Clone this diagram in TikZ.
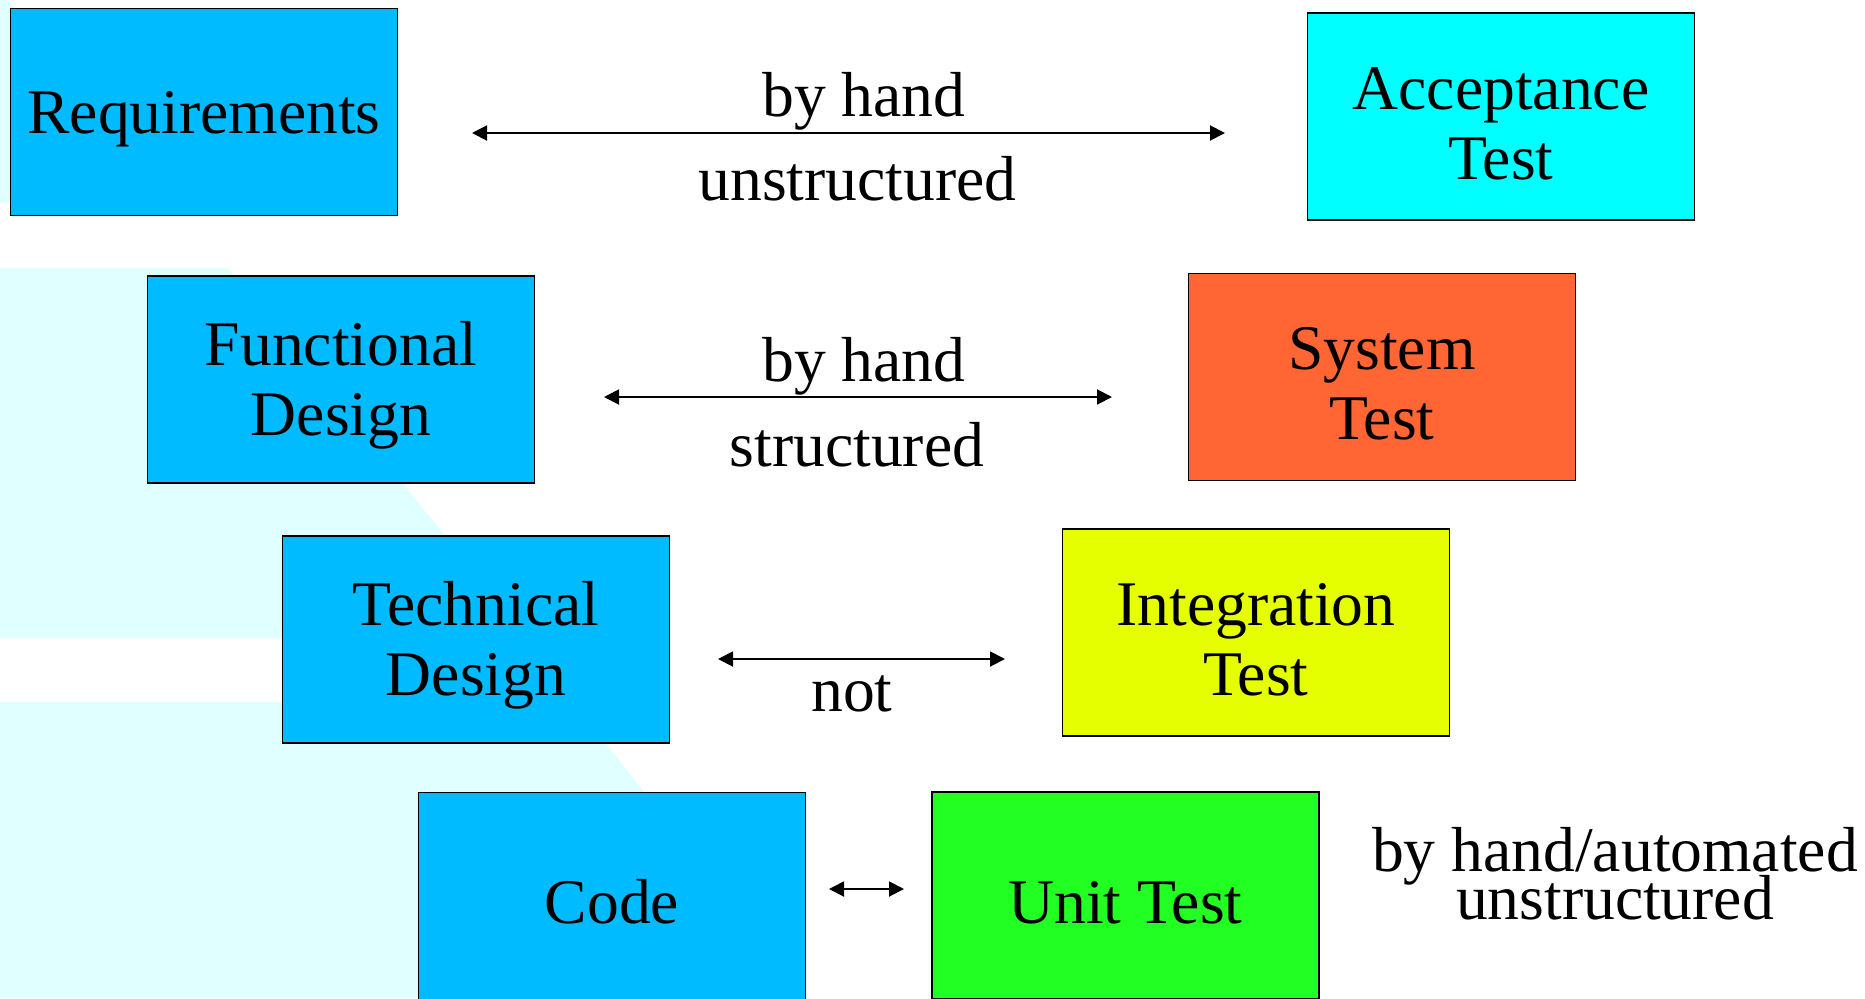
\documentclass[tikz,border=0pt]{standalone}
\usepackage{fontspec}
\setmainfont{Liberation Serif}
\usetikzlibrary{arrows.meta}

\definecolor{phaseblue}{HTML}{00BBFF}
\definecolor{accept}{HTML}{00FFFF}
\definecolor{systest}{HTML}{FF6633}
\definecolor{integr}{HTML}{E5FF00}
\definecolor{unittest}{HTML}{22FF22}
\definecolor{bgcyan}{HTML}{E0FFFF}

% extra room above the first line, so box texts sit a little low
\newcommand{\toppad}{\rule{0pt}{32pt}}

\tikzset{
  phase/.style={draw=black, line width=0.8pt, minimum width=7.74cm, minimum height=4.14cm,
    inner sep=0pt, align=center, font=\fontsize{36.2}{40}\selectfont},
  link/.style={{Triangle[length=0.3cm,width=0.3cm]}-{Triangle[length=0.3cm,width=0.3cm]},
    line width=1.1pt},
  remark/.style={inner sep=0pt, align=center, font=\fontsize{36.2}{40}\selectfont},
}

\begin{document}
\begin{tikzpicture}[x=0.02cm,y=-0.02cm]
    \useasboundingbox (0,0) rectangle (1865,998);
    % light bands behind the left column
    \fill[bgcyan] (0,0) -- (8,0) -- (172,203) -- (0,203) -- cycle;
    \fill[bgcyan] (0,268) -- (228,268) -- (528,638) -- (0,638) -- cycle;
    \fill[bgcyan] (0,702) -- (573,702) -- (807,998) -- (0,998) -- cycle;

    % development side
    \node[phase, fill=phaseblue] (req)  at (204,112)   {\toppad Requirements};
    \node[phase, fill=phaseblue] (fd)   at (341,379.5) {\toppad Functional\\Design};
    \node[phase, fill=phaseblue] (td)   at (476,639.5) {\toppad Technical\\Design};
    \node[phase, fill=phaseblue] (code) at (612,896)   {\toppad Code};

    % test side
    \node[phase, fill=accept]   (at)  at (1501,116.5) {\toppad Acceptance\\Test};
    \node[phase, fill=systest]  (st)  at (1382,377)   {\toppad System\\Test};
    \node[phase, fill=integr]   (it)  at (1256,632.5) {\toppad Integration\\Test};
    \node[phase, fill=unittest] (ut)  at (1125.5,895.5) {\toppad Unit Test};

    % arrow ends
    \coordinate (l1) at (472,133);  \coordinate (r1) at (1225,133);
    \coordinate (l2) at (604,397);  \coordinate (r2) at (1112,397);
    \coordinate (l3) at (718,659);  \coordinate (r3) at (1005,659);
    \coordinate (l4) at (829,889);  \coordinate (r4) at (904,889);

    \draw[link] (l1) -- (r1);
    \draw[link] (l2) -- (r2);
    \draw[link] (l3) -- (r3);
    \draw[link] (l4) -- (r4);

    % how each pair is tested
    \node[remark] (hand1)   at (864,101)   {by hand};
    \node[remark] (unstr1)  at (857.5,179) {unstructured};
    \node[remark] (hand2)   at (864,366)   {by hand};
    \node[remark] (struct2) at (857,445)   {structured};
    \node[remark] (not3)    at (852,694)   {not};
    \node[remark, font=\fontsize{36.2}{33.7}\selectfont] (auto4) at (1615,874)
        {by hand/automated\\[-6.5pt]unstructured};
\end{tikzpicture}
\end{document}
